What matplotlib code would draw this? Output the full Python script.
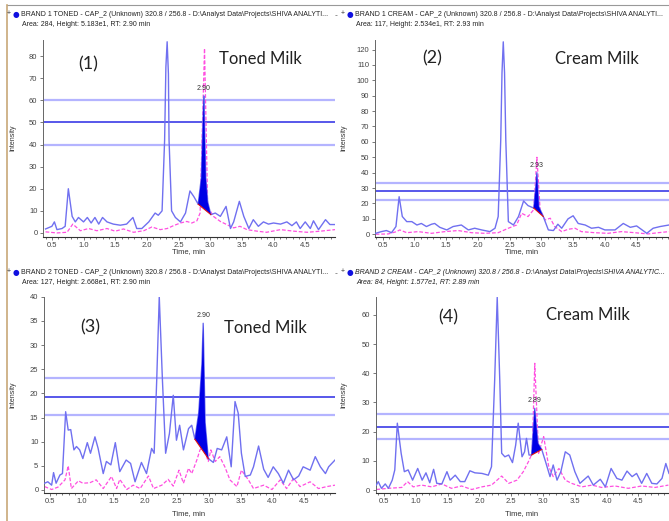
import numpy as np
import matplotlib.pyplot as plt
from matplotlib.ticker import MultipleLocator

# ---- panel (1) brand 1 toned milk
p1_t = [0.40, 0.50, 0.54, 0.58, 0.66, 0.71, 0.76, 0.82, 0.87, 0.92, 1.00, 1.06, 1.12, 1.18, 1.24,
        1.30, 1.37, 1.47, 1.58, 1.68, 1.78, 1.84, 1.92, 2.03, 2.13, 2.18, 2.24, 2.28, 2.30, 2.32,
        2.34, 2.35, 2.39, 2.45, 2.53, 2.61, 2.68, 2.74, 2.81, 2.86, 2.89, 2.90, 2.93, 2.96, 3.01,
        3.08, 3.16, 3.25, 3.32, 3.37, 3.46, 3.53, 3.61, 3.68, 3.76, 3.84, 3.92, 4.00, 4.11, 4.21,
        4.29, 4.36, 4.42, 4.50, 4.58, 4.63, 4.71, 4.82, 4.89, 4.97]
p1_y = [1.8, 3.0, 5.0, 1.5, 2.0, 3.0, 20.0, 7.5, 5.0, 7.0, 5.0, 7.0, 4.5, 7.0, 4.0,
        7.0, 5.0, 4.0, 3.5, 4.0, 7.0, 2.0, 2.0, 5.0, 9.0, 8.0, 10.0, 42.0, 75.0, 86.5,
        72.0, 42.0, 10.0, 7.0, 5.0, 9.0, 19.0, 16.5, 13.0, 25.0, 55.0, 62.0, 25.0, 14.0, 8.3,
        9.0, 7.5, 12.0, 2.0, 5.0, 14.3, 7.5, 2.0, 6.0, 3.0, 5.0, 4.0, 4.5, 4.0, 5.0,
        3.3, 5.0, 2.0, 5.0, 2.0, 5.5, 1.5, 6.0, 3.8, 3.8]
p1_mt = [0.40, 0.58, 0.74, 0.83, 0.95, 1.08, 1.21, 1.37, 1.50, 1.63, 1.79, 1.95, 2.08, 2.21,
         2.32, 2.42, 2.53, 2.63, 2.71, 2.79, 2.84, 2.91, 2.96, 3.05, 3.16, 3.26, 3.37, 3.47,
         3.58, 3.74, 3.89, 4.11, 4.32, 4.53, 4.74, 4.97]
p1_my = [0.5, 0.0, 0.3, 4.0, 1.0, 2.0, 1.0, 2.0, 0.8, 1.8, 0.3, 1.0, 2.7, 1.5,
         2.0, 3.3, 4.5, 5.2, 4.5, 5.5, 9.0, 83.5, 12.0, 7.5, 5.2, 3.8, 2.3, 3.0,
         1.5, 0.8, 0.3, 1.5, 0.8, 0.3, 0.8, 1.5]
p1_peak_t = [2.81, 2.86, 2.89, 2.90, 2.93, 2.96, 3.01]
p1_peak_y = [13.0, 25.0, 55.0, 62.0, 25.0, 14.0, 8.3]
p1_levels = [40, 50, 60]

# ---- panel (2) brand 1 cream milk
p2_t = [0.39, 0.48, 0.56, 0.64, 0.71, 0.76, 0.81, 0.88, 0.96, 1.04, 1.11, 1.19, 1.27, 1.32,
        1.40, 1.51, 1.61, 1.74, 1.85, 1.95, 2.06, 2.19, 2.27, 2.32, 2.36, 2.38, 2.40, 2.42,
        2.44, 2.48, 2.56, 2.64, 2.72, 2.79, 2.88, 2.91, 2.93, 2.96, 3.03, 3.11, 3.19, 3.26,
        3.32, 3.42, 3.50, 3.58, 3.69, 3.79, 3.90, 4.00, 4.16, 4.29, 4.40, 4.50, 4.66, 4.76,
        4.87, 5.01]
p2_y = [0.6, 1.7, 2.4, 1.0, 5.0, 24.4, 11.5, 8.2, 8.2, 6.0, 7.0, 5.0, 6.5, 7.0,
        4.5, 2.8, 5.0, 6.0, 2.8, 3.9, 2.8, 1.7, 3.9, 11.5, 61.0, 105.0, 125.0, 105.0,
        61.0, 8.2, 6.0, 11.5, 21.6, 18.6, 17.0, 30.0, 40.0, 18.0, 11.5, 2.8, 2.4, 6.5,
        3.9, 10.0, 12.0, 7.0, 6.0, 3.9, 4.5, 2.8, 2.8, 7.0, 4.5, 5.4, 0.6, 3.9,
        5.0, 6.0]
p2_mt = [0.39, 0.59, 0.72, 0.77, 0.88, 1.06, 1.27, 1.48, 1.69, 1.90, 2.11, 2.32, 2.48, 2.61,
         2.69, 2.79, 2.88, 2.93, 2.98, 3.06, 3.14, 3.21, 3.32, 3.42, 3.53, 3.63, 3.84, 4.05,
         4.26, 4.47, 4.68, 4.84, 5.01]
p2_my = [0.0, 0.2, 1.7, 2.8, 1.0, 1.7, 0.6, 1.7, 2.4, 1.0, 0.6, 1.0, 3.9, 6.0,
         13.6, 11.5, 16.0, 50.0, 15.8, 9.3, 10.4, 5.0, 1.7, 3.2, 3.9, 1.7, 1.0, 0.6,
         1.7, 1.0, 0.2, 1.0, 1.7]
p2_peak_t = [2.88, 2.91, 2.93, 2.96, 3.03]
p2_peak_y = [17.0, 30.0, 40.0, 18.0, 11.5]
p2_levels = [22.3, 28.1, 33.5]

# ---- panel (3) brand 2 toned milk
p3_t = [0.42, 0.47, 0.53, 0.56, 0.60, 0.66, 0.70, 0.75, 0.79, 0.83, 0.88, 0.92, 0.97, 1.02,
        1.09, 1.14, 1.21, 1.26, 1.34, 1.39, 1.46, 1.53, 1.60, 1.70, 1.77, 1.84, 1.94, 2.02,
        2.10, 2.14, 2.18, 2.22, 2.27, 2.32, 2.38, 2.44, 2.49, 2.54, 2.60, 2.68, 2.73, 2.78,
        2.84, 2.89, 2.91, 2.94, 2.99, 3.07, 3.13, 3.20, 3.28, 3.35, 3.41, 3.46, 3.51, 3.57,
        3.65, 3.70, 3.78, 3.86, 3.93, 4.01, 4.09, 4.17, 4.25, 4.33, 4.41, 4.48, 4.59, 4.67,
        4.75, 4.83, 4.88, 4.98]
p3_y = [1.4, 1.7, 1.0, 3.6, 1.4, 3.1, 3.4, 16.2, 12.4, 12.5, 8.3, 9.0, 8.3, 6.5,
        9.8, 7.6, 11.0, 8.6, 3.4, 5.9, 5.2, 9.8, 3.8, 6.2, 5.5, 1.7, 5.7, 3.4,
        8.6, 7.6, 22.7, 40.0, 22.7, 7.6, 11.7, 19.6, 10.3, 13.4, 8.3, 12.7, 13.4, 10.5,
        16.0, 26.0, 34.5, 14.0, 6.5, 5.7, 8.6, 8.3, 11.0, 4.8, 18.3, 15.9, 7.6, 2.8,
        3.1, 4.8, 9.1, 4.3, 2.6, 4.8, 3.4, 1.4, 4.1, 2.1, 2.9, 4.8, 4.1, 6.9,
        4.8, 3.4, 4.8, 6.2]
p3_mt = [0.42, 0.53, 0.63, 0.74, 0.79, 0.84, 0.95, 1.02, 1.13, 1.23, 1.34, 1.47, 1.55, 1.60,
         1.71, 1.81, 1.92, 2.05, 2.13, 2.26, 2.36, 2.44, 2.53, 2.60, 2.68, 2.73, 2.81, 2.86,
         2.91, 2.99, 3.03, 3.10, 3.17, 3.25, 3.33, 3.44, 3.51, 3.62, 3.70, 3.86, 3.99, 4.12,
         4.22, 4.33, 4.43, 4.59, 4.72, 4.85, 4.98]
p3_my = [0.7, 0.1, 0.6, 2.1, 5.0, 0.3, 1.9, 1.4, 1.5, 2.1, 0.3, 2.8, 0.3, 2.2,
         0.1, 1.0, 0.3, 2.9, 0.3, 1.0, 2.2, 0.8, 4.1, 1.4, 4.5, 3.4, 6.2, 8.3,
         9.0, 5.9, 8.3, 5.9, 6.9, 4.8, 2.1, 0.7, 4.1, 2.1, 0.3, 1.0, 0.1, 2.1,
         0.3, 2.4, 0.7, 1.7, 0.3, 0.7, 1.0]
p3_peak_t = [2.78, 2.84, 2.89, 2.91, 2.94, 2.99]
p3_peak_y = [10.5, 16.0, 26.0, 34.5, 14.0, 6.5]
p3_levels = [15.5, 19.3, 23.2]

# ---- panel (4) brand 2 cream milk
p4_t = [0.38, 0.41, 0.46, 0.52, 0.57, 0.63, 0.67, 0.71, 0.77, 0.82, 0.88, 0.95, 1.03, 1.10,
        1.16, 1.22, 1.28, 1.33, 1.41, 1.49, 1.54, 1.62, 1.70, 1.77, 1.85, 1.93, 2.04, 2.14,
        2.19, 2.24, 2.28, 2.32, 2.35, 2.40, 2.46, 2.52, 2.57, 2.61, 2.67, 2.71, 2.74, 2.78,
        2.82, 2.87, 2.92, 2.98, 3.04, 3.11, 3.16, 3.22, 3.28, 3.35, 3.42, 3.50, 3.58, 3.71,
        3.79, 3.90, 3.98, 4.07, 4.16, 4.24, 4.32, 4.40, 4.47, 4.55, 4.63, 4.71, 4.79, 4.87,
        4.93, 4.98]
p4_y = [1.7, 2.9, 0.6, 2.1, 0.6, 3.4, 6.9, 22.9, 12.6, 6.3, 6.9, 3.4, 7.4, 3.4,
        5.9, 2.5, 7.1, 2.3, 2.1, 6.3, 3.4, 5.1, 2.9, 2.9, 6.6, 5.9, 5.7, 5.1,
        8.0, 37.7, 66.0, 37.7, 12.6, 11.4, 12.0, 9.4, 15.4, 22.9, 11.4, 13.1, 17.7, 12.0,
        12.0, 28.0, 16.0, 13.9, 9.7, 4.6, 8.6, 3.4, 6.3, 13.1, 12.0, 6.3, 2.3, 4.8,
        1.7, 3.7, 1.1, 7.4, 4.0, 3.4, 6.5, 4.6, 5.7, 2.3, 5.7, 2.3, 2.1, 4.0,
        9.1, 5.7]
p4_mt = [0.38, 0.57, 0.78, 0.87, 0.96, 1.09, 1.25, 1.41, 1.56, 1.72, 1.88, 2.04, 2.19, 2.35,
         2.46, 2.59, 2.69, 2.77, 2.83, 2.87, 2.93, 3.01, 3.09, 3.16, 3.25, 3.35, 3.45, 3.61,
         3.77, 3.92, 4.13, 4.34, 4.55, 4.76, 4.97]
p4_my = [0.2, 0.6, 0.9, 2.9, 1.1, 1.7, 1.1, 2.1, 0.6, 1.4, 0.2, 1.1, 1.7, 4.8,
         2.3, 3.4, 6.3, 9.7, 12.6, 43.4, 12.6, 18.3, 8.0, 4.6, 7.4, 3.4, 2.3, 1.1,
         1.7, 0.9, 1.4, 0.6, 1.4, 0.9, 1.7]
p4_peak_t = [2.82, 2.87, 2.92, 2.98]
p4_peak_y = [12.0, 28.0, 16.0, 13.9]
p4_levels = [17.4, 21.7, 26.0]

W, H = 669, 521
fig = plt.figure(figsize=(W / 100, H / 100), dpi=100)
small = ['Liberation Sans', 'DejaVu Sans']


def px_axes(l, t, r, b):
    return fig.add_axes([l / W, 1 - b / H, (r - l) / W, (b - t) / H])


def ftext(x, y, s, **kw):
    return fig.text(x / W, 1 - y / H, s, **kw)


panels = [
    dict(box=(43, 40, 335, 236.7), xlim=(0.36, 4.97), ylim=(-1.7, 87.3), ystep=10,
         t=p1_t, y=p1_y, mt=p1_mt, my=p1_my, pt=p1_peak_t, py=p1_peak_y, lv=p1_levels,
         rt='2.90'),
    dict(box=(375, 40, 669, 236.7), xlim=(0.38, 5.01), ylim=(-1.6, 126.2), ystep=10,
         t=p2_t, y=p2_y, mt=p2_mt, my=p2_my, pt=p2_peak_t, py=p2_peak_y, lv=p2_levels,
         rt='2.93'),
    dict(box=(44, 296.7, 335, 492.7), xlim=(0.41, 4.98), ylim=(-0.56, 40.0), ystep=5,
         t=p3_t, y=p3_y, mt=p3_mt, my=p3_my, pt=p3_peak_t, py=p3_peak_y, lv=p3_levels,
         rt='2.90'),
    dict(box=(375.7, 296.7, 669, 492.7), xlim=(0.37, 4.98), ylim=(-0.9, 66.2), ystep=10,
         t=p4_t, y=p4_y, mt=p4_mt, my=p4_my, pt=p4_peak_t, py=p4_peak_y, lv=p4_levels,
         rt='2.89'),
]

for p in panels:
    ax = px_axes(*p['box'])
    ax.set_xlim(*p['xlim'])
    ax.set_ylim(*p['ylim'])
    lo, mid, hi = p['lv']
    ax.axhline(lo, color='#b4b4ff', lw=1.6, zorder=1)
    ax.axhline(hi, color='#b4b4ff', lw=1.6, zorder=1)
    ax.axhline(mid, color='#4a4ae8', lw=1.3, zorder=1)
    ax.plot(p['mt'], p['my'], color='#ff4fe0', lw=0.9, ls=(0, (3, 1.5)), zorder=2)
    ax.plot(p['t'], p['y'], color='#7070f0', lw=1.0, zorder=3)
    ax.fill(p['pt'], p['py'], color='#0000e6', lw=0, zorder=4)
    ax.plot([p['pt'][0], p['pt'][-1]], [p['py'][0], p['py'][-1]], color='#e01010', lw=0.8, zorder=5)
    apex = int(np.argmax(p['py']))
    ax.annotate(p['rt'], (p['pt'][apex], p['py'][apex]), xytext=(0, 3), textcoords='offset points',
                ha='center', va='bottom', fontsize=5, color='#333333', family=small)
    for s in ['top', 'right']:
        ax.spines[s].set_visible(False)
    ax.spines['left'].set_color('#666666')
    ax.spines['left'].set_linewidth(0.7)
    ax.spines['bottom'].set_color('#333333')
    ax.spines['bottom'].set_linewidth(0.8)
    ax.xaxis.set_major_locator(MultipleLocator(0.5))
    ax.xaxis.set_minor_locator(MultipleLocator(0.1))
    ax.yaxis.set_major_locator(MultipleLocator(p['ystep']))
    ax.tick_params(axis='both', labelsize=5.5, colors='#444444', length=2.5, width=0.5, pad=1.5)
    ax.tick_params(which='minor', length=1.5, width=0.5, colors='#444444')
    ax.set_xticks([v for v in ax.get_xticks() if 0.45 <= v <= 4.55])
    ax.set_yticks([v for v in ax.get_yticks() if 0 <= v <= p['ylim'][1]])
    for lab in ax.get_xticklabels() + ax.get_yticklabels():
        lab.set_family(small)
    ax.patch.set_alpha(0)

# axis titles
for x, y in [(189, 252), (522, 252), (189, 514), (522, 514)]:
    ftext(x, y, 'Time, min', fontsize=5.5, color='#333333', ha='center', va='center', family=small)
for x, y in [(13, 138), (344, 138), (13, 395), (344, 395)]:
    ftext(x, y, 'Intensity', fontsize=5, color='#333333', ha='center', va='center',
          rotation=90, family=small)

# headers
path = '320.8 / 256.8 - D:\\Analyst Data\\Projects\\SHIVA ANALYTICAL CAP2016_06_22\\Data\\2806...'
headers = [
    (21, 14, 332, 'BRAND 1 TONED - CAP_2 (Unknown) ' + path, 'Area: 284, Height: 5.183e1, RT: 2.90 min', 'normal'),
    (355, 14, 667, 'BRAND 1 CREAM - CAP_2 (Unknown) ' + path, 'Area: 117, Height: 2.534e1, RT: 2.93 min', 'normal'),
    (21, 272, 332, 'BRAND 2 TONED - CAP_2 (Unknown) ' + path, 'Area: 127, Height: 2.668e1, RT: 2.90 min', 'normal'),
    (355, 272, 667, 'BRAND 2 CREAM - CAP_2 (Unknown) ' + path, 'Area: 84, Height: 1.577e1, RT: 2.89 min', 'italic'),
]
fig.canvas.draw()
renderer = fig.canvas.get_renderer()
for x, y, right, line1, line2, style in headers:
    ftext(x - 10, y, '+', fontsize=5, color='#333333', va='center', ha='right', family=small)
    ftext(x - 5, y, '\u25cf', fontsize=5.5, color='#1010e0', va='center', ha='center')
    txt = ftext(x, y, line1, fontsize=5, color='#222222', va='center', family=small, style=style)
    s = line1
    while txt.get_window_extent(renderer).x1 > right and len(s) > 10:
        s = s[:-1]
        txt.set_text(s.rstrip() + '...')
    ftext(x + 1, y + 11, line2, fontsize=5, color='#222222', va='center', family=small, style=style)
for y in [14, 272]:
    ftext(334, y, '..', fontsize=5, color='#333333', va='center', family=small)

# panel labels
lab_font = ['Lato', 'DejaVu Sans']
for x, y, s in [(88, 64, '(1)'), (432, 58, '(2)'), (90, 327, '(3)'), (448, 317, '(4)')]:
    ftext(x, y, s, fontsize=13, color='#222222', ha='center', va='center', family=lab_font)
for x, y, s in [(260, 59, 'Toned Milk'), (597, 59, 'Cream Milk'),
                (265, 328, 'Toned Milk'), (588, 315, 'Cream Milk')]:
    ftext(x, y, s, fontsize=12, color='#222222', ha='center', va='center', family=lab_font)

# frame lines of the screenshot
fig.add_artist(plt.Line2D([7 / W, 1], [1 - 5 / H, 1 - 5 / H], transform=fig.transFigure,
                          color='#999999', lw=0.8))
fig.add_artist(plt.Line2D([7 / W, 7 / W], [0, 1 - 5 / H], transform=fig.transFigure,
                          color='#c8a878', lw=1.2))

fig.savefig('out.png', dpi=100)
